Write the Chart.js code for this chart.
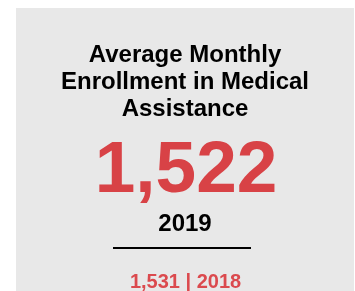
<!DOCTYPE html>
<html>
<head>
<meta charset="utf-8">
<script src="https://cdn.jsdelivr.net/npm/chart.js@4/dist/chart.umd.min.js"></script>
<style>
html,body{margin:0;padding:0;background:#ffffff;}
#wrap{width:355px;height:291px;}
</style>
</head>
<body>
<div id="wrap"><canvas id="c" width="355" height="291"></canvas></div>
<script>
const titleLines = ['Average Monthly', 'Enrollment in Medical', 'Assistance'];
const years = ['2019', '2018'];
const values = [1522, 1531];

const fmt = v => v.toLocaleString('en-US');
const FONT = '"Liberation Sans", Arial, sans-serif';
const RED = '#d84246';

const cardPlugin = {
  id: 'card',
  beforeDraw(chart) {
    const ctx = chart.ctx;
    ctx.save();
    ctx.fillStyle = '#e8e8e8';
    ctx.fillRect(16, 8, 338, 283);
    ctx.restore();
  },
  afterDraw(chart) {
    const ctx = chart.ctx;
    const cx = 185;
    ctx.save();
    ctx.textAlign = 'center';
    ctx.textBaseline = 'alphabetic';
    ctx.fillStyle = '#000000';
    ctx.font = 'bold 24px ' + FONT;
    titleLines.forEach((t, i) => ctx.fillText(t, cx, 62 + i * 27));

    ctx.fillStyle = RED;
    ctx.font = 'bold 73px ' + FONT;
    ctx.fillText(fmt(values[0]), 186, 192);

    ctx.fillStyle = '#000000';
    ctx.font = 'bold 24px ' + FONT;
    ctx.fillText(years[0], cx, 231);

    ctx.fillStyle = '#000000';
    ctx.fillRect(113, 247, 138, 2);

    ctx.fillStyle = '#db4a4e';
    ctx.font = 'bold 20px ' + FONT;
    ctx.fillText(fmt(values[1]) + ' | ' + years[1], 185.5, 288);
    ctx.restore();
  }
};

new Chart(document.getElementById('c'), {
  type: 'bar',
  data: {
    labels: years,
    datasets: [{ data: values, backgroundColor: 'rgba(0,0,0,0)', borderWidth: 0 }]
  },
  options: {
    responsive: false,
    animation: false,
    events: [],
    plugins: { legend: { display: false }, tooltip: { enabled: false }, title: { display: false } },
    scales: { x: { display: false }, y: { display: false } }
  },
  plugins: [cardPlugin]
});
</script>
</body>
</html>
